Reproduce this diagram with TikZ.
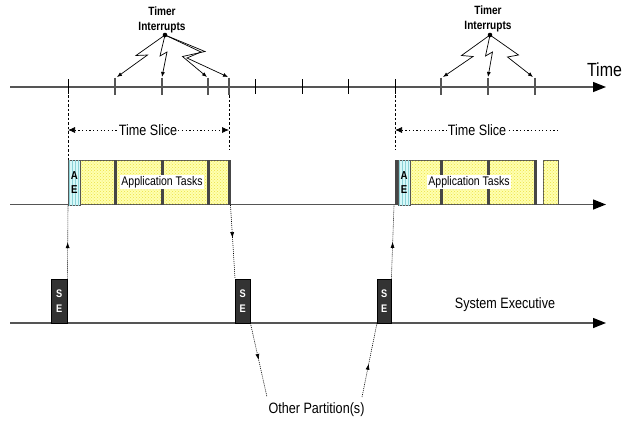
\documentclass[tikz,border=0pt]{standalone}
\usepackage{fontspec}
\setmainfont{Liberation Sans}
\newfontfamily\nf[FakeStretch=0.84]{Liberation Sans}
\usetikzlibrary{arrows.meta,decorations.markings,patterns}
\definecolor{axisgray}{RGB}{85,85,85}
\definecolor{sepgray}{RGB}{70,70,70}
\definecolor{tasky}{RGB}{255,255,175}
\definecolor{taskdot}{RGB}{235,225,70}
\definecolor{aecyan}{RGB}{215,248,248}
\definecolor{aeline}{RGB}{140,210,215}
\definecolor{sefill}{RGB}{51,51,51}
\begin{document}
\begin{tikzpicture}[x=1pt,y=-1pt,
  axisline/.style={draw=axisgray,line width=1.4pt,-{Triangle[length=13pt,width=10pt,color=black]}},
  thintick/.style={draw=black,line width=0.8pt},
  thicktick/.style={draw=axisgray,line width=2.6pt},
  guide/.style={draw=black,line width=0.6pt,dash pattern=on 2.5pt off 2pt},
  bolt/.style={draw=black,line width=0.7pt,-{Latex[length=5pt,width=4pt]}},
  slice/.style={draw=black,line width=0.7pt,dash pattern=on 1.2pt off 2.5pt},
  midarrow/.style={draw=black,line width=0.6pt,dash pattern=on 1pt off 1pt,postaction={decorate},
    decoration={markings,mark=at position #1 with {\arrow{Latex[length=6pt,width=4pt]}}}},
  taskblock/.style={draw=axisgray,line width=0.5pt,fill=tasky,postaction={pattern=crosshatch dots,pattern color=taskdot}},
  sepline/.style={draw=sepgray,line width=3pt},
  aebox/.style={draw=axisgray,line width=0.6pt,fill=aecyan,postaction={pattern=vertical lines,pattern color=aeline},
    minimum width=12pt,minimum height=45pt,inner sep=0pt,align=center,font=\nf\bfseries\fontsize{11.5}{14}\selectfont},
  sebox/.style={draw=black,fill=sefill,text=white,minimum width=15pt,minimum height=44pt,inner sep=0pt,
    align=center,font=\nf\bfseries\fontsize{11}{15}\selectfont},
  txt/.style={font=\nf\fontsize{15}{18}\selectfont,inner sep=1pt},
  tasktxt/.style={fill=white,font=\nf\fontsize{12.5}{15}\selectfont,inner sep=1.5pt},
  timertxt/.style={align=center,font=\nf\bfseries\fontsize{12}{15}\selectfont,inner sep=0pt}
]
\useasboundingbox (0,0) rectangle (629,421);

% ---------- axes ----------
\coordinate (a1s) at (10,87);   \coordinate (a1e) at (606,87);
\coordinate (a2s) at (10,204.5);\coordinate (a2e) at (606,204.5);
\coordinate (a3s) at (10,323);  \coordinate (a3e) at (606,323);
\draw[axisline] (a1s) -- (a1e);
\draw[axisline] (a2s) -- (a2e);
\draw[axisline] (a3s) -- (a3e);
\node[font=\nf\fontsize{19}{22}\selectfont,inner sep=0pt] (time) at (604.5,70) {Time};

% ---------- ticks ----------
\foreach \x in {68,255,302,348,395} \draw[thintick] (\x,79) -- (\x,94);
\foreach \x in {115,162,208,229,441,488,535} \draw[thicktick] (\x,77.5) -- (\x,95);

% ---------- guides ----------
\draw[guide] (68,95) -- (68,160);
\draw[guide] (229,95) -- (229,150);
\draw[guide] (395,95) -- (395,150);

% ---------- time slices ----------
\coordinate (ts1a) at (68,130); \coordinate (ts1b) at (229,130);
\coordinate (ts2a) at (395,130); \coordinate (ts2b) at (560,130);
\draw[slice,{Latex[length=7pt,width=6pt]}-{Latex[length=7pt,width=6pt]}] (ts1a) -- (ts1b);
\draw[slice,{Latex[length=7pt,width=6pt]}-] (ts2a) -- (ts2b);
\node[txt,fill=white] (tsl1) at (148,130) {Time Slice};
\node[txt,fill=white] (tsl2) at (477,130) {Time Slice};

% ---------- timer interrupts ----------
\node[timertxt] (tiL) at (162,19.5) {Timer\\Interrupts};
\node[timertxt] (tiR) at (488,18.5) {Timer\\Interrupts};
\coordinate (dotL) at (165,35);
\coordinate (dotR) at (490,35);
\fill (dotL) circle (2.3pt);
\fill (dotR) circle (2.3pt);
\draw[bolt] (dotL) -- (136,55.5) -- (147.5,55) -- (117,77);
\draw[bolt] (dotL) -- (160,56) -- (167,52) -- (162,77);
\draw[bolt] (dotL) -- (205,51.5) -- (182.5,56.5) -- (207,77);
\draw[bolt] (dotL) -- (201,52) -- (187,58) -- (228,77);
\draw[bolt] (dotR) -- (461.5,55.5) -- (473,56.5) -- (443,77);
\draw[bolt] (dotR) -- (485.5,56) -- (492.5,52) -- (488,77);
\draw[bolt] (dotR) -- (518.5,55) -- (507.5,57) -- (533,77);

% ---------- application tasks (left) ----------
\path[taskblock] (80,160) rectangle (229,204.5);
\foreach \x in {115,162,208,229} \draw[sepline] (\x,160) -- (\x,205);
\node[aebox,anchor=north west] (ae1) at (68,160) {A\\E};
\node[tasktxt] (app1) at (162,182) {Application Tasks};

% ---------- application tasks (right) ----------
\path[taskblock] (410,160) rectangle (535,204.5);
\path[taskblock] (543,160) rectangle (558,204.5);
\foreach \x in {396,441,488,535} \draw[sepline] (\x,160) -- (\x,205);
\node[aebox,minimum width=12.5pt,anchor=north west] (ae2) at (397.5,160) {A\\E};
\node[tasktxt] (app2) at (469,182) {Application Tasks};

% ---------- system executive ----------
\node[sebox,minimum width=16pt,anchor=south west] (se1) at (51,323) {S\\E};
\node[sebox,anchor=south west] (se2) at (235,323) {S\\E};
\node[sebox,minimum width=14pt,anchor=south west] (se3) at (377,323) {S\\E};
\node[txt] (sysx) at (505,305) {System Executive};
\node[txt] (op) at (316.5,410) {Other Partition(s)};

% ---------- dotted connectors ----------
\coordinate (t1end) at (230.5,205);
\coordinate (ae2in) at (394,205);
\coordinate (op1) at (267,397);
\coordinate (op2) at (362,397);
\draw[midarrow=0.5] (se1.north east) -- (ae1.south west);
\draw[midarrow=0.45] (t1end) -- (se2.north west);
\draw[midarrow=0.5] (se2.south east) -- (op1);
\draw[midarrow=0.45] (op2) -- (se3.south west);
\draw[midarrow=0.5] (se3.north east) -- (ae2in);
\end{tikzpicture}
\end{document}
